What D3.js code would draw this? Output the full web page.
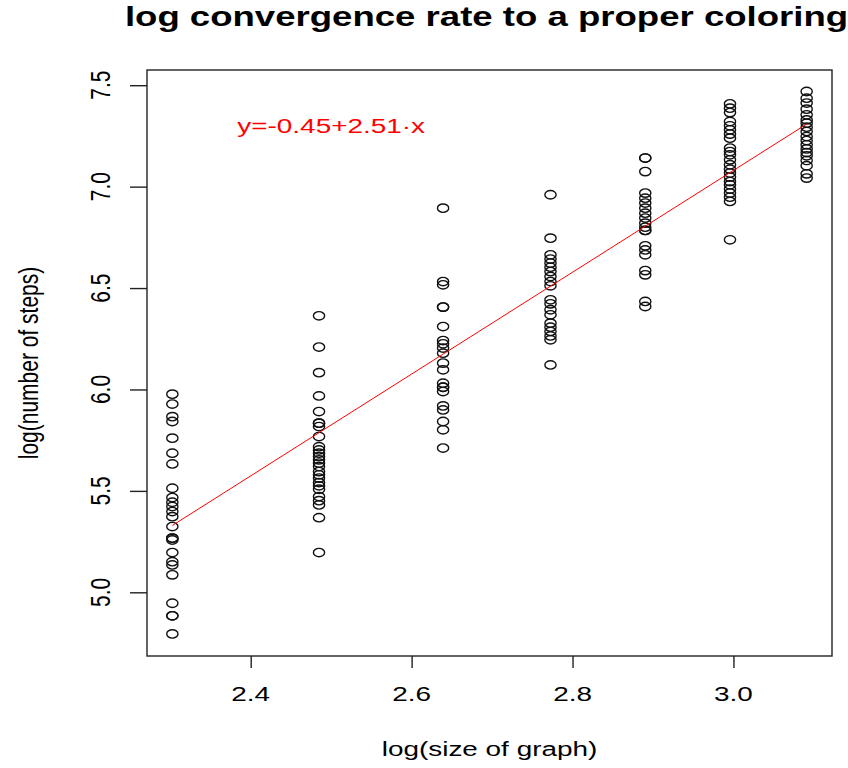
<!DOCTYPE html>
<html>
<head>
<meta charset="utf-8">
<script src="https://cdn.jsdelivr.net/npm/d3@7"></script>
<style>
  body { margin: 0; background: #fff; }
  text { font-family: "Liberation Sans", Arial, sans-serif; }
</style>
</head>
<body>
<div id="chart"></div>
<script>
// log(size of graph) for each group of runs
const logSize = [2.3026, 2.4849, 2.6391, 2.7726, 2.8904, 2.9957, 3.0910]

// log(number of steps) for each run, one array per graph size
const steps10 = [5.977, 5.928, 5.866, 5.842, 5.760, 5.686, 5.633, 5.513, 5.467, 5.444, 5.423, 5.398,
    5.373, 5.324, 5.267, 5.267, 5.258, 5.196, 5.151, 5.135, 5.086, 4.946, 4.884, 4.884, 4.795]
const steps12 = [6.363, 6.209, 6.083, 5.968, 5.891, 5.834, 5.834, 5.817, 5.768, 5.718, 5.702, 5.686,
    5.669, 5.653, 5.637, 5.620, 5.595, 5.579, 5.563, 5.541, 5.525, 5.508, 5.472, 5.452, 5.431, 5.368, 5.196]
const steps14 = [6.894, 6.532, 6.516, 6.406, 6.406, 6.310, 6.241, 6.225, 6.204, 6.179, 6.130, 6.097,
    6.031, 6.011, 6.011, 5.990, 5.919, 5.899, 5.842, 5.801, 5.711]
const steps16 = [6.960, 6.746, 6.664, 6.643, 6.623, 6.603, 6.581, 6.557, 6.532, 6.511, 6.442, 6.422,
    6.393, 6.368, 6.327, 6.307, 6.286, 6.264, 6.245, 6.121]
const steps18 = [7.141, 7.141, 7.074, 6.968, 6.943, 6.919, 6.894, 6.869, 6.845, 6.820, 6.800, 6.784,
    6.784, 6.708, 6.688, 6.664, 6.586, 6.565, 6.434, 6.409]
const steps20 = [7.408, 7.387, 7.365, 7.321, 7.300, 7.280, 7.259, 7.239, 7.190, 7.173, 7.157, 7.132,
    7.108, 7.086, 7.067, 7.047, 7.025, 7.009, 6.988, 6.968, 6.948, 6.927, 6.738]
const steps22 = [7.469, 7.436, 7.412, 7.382, 7.354, 7.329, 7.313, 7.293, 7.272, 7.247, 7.227, 7.206,
    7.186, 7.168, 7.152, 7.129, 7.103, 7.063, 7.042]

const stepGroups = [steps10, steps12, steps14, steps16, steps18, steps20, steps22]

// fitted line y = a + b*x
const intercept = -0.45
const slope = 2.51

const xTicks = [2.4, 2.6, 2.8, 3.0]
const yTicks = [5.0, 5.5, 6.0, 6.5, 7.0, 7.5]

const titleText = "log convergence rate to a proper coloring"
const xLabel = "log(size of graph)"
const yLabel = "log(number of steps)"
const fitLabel = "y=-0.45+2.51\u00b7x"

let svg_width = 848
let svg_height = 768
let sx = 1.33 // the picture is stretched sideways

var margin = { top: 70, right: 16, bottom: 112, left: 147 },
    width = svg_width - margin.left - margin.right,
    height = svg_height - margin.top - margin.bottom;

let points = []
stepGroups.forEach((g, i) => g.forEach(v => points.push({ x: logSize[i], y: v })))

var svg = d3.select("#chart")
    .append("svg")
    .attr("width", svg_width)
    .attr("height", svg_height)
    .append("g")
    .attr("transform", "translate(" + margin.left + "," + margin.top + ")");

var xScale = d3.scaleLinear()
    .domain([2.2711, 3.1225])
    .range([0, width]);

var yScale = d3.scaleLinear()
    .domain([4.686, 7.575])
    .range([height, 0]);

function stretchedText(g, x, y, str, size, rot) {
    return g.append("text")
        .attr("transform", "translate(" + x + "," + y + ") scale(" + sx + ",1)" + (rot ? " rotate(-90)" : ""))
        .attr("text-anchor", "middle")
        .style("font-size", size + "px")
        .text(str)
}

// axes
var xAxis = svg.append("g")
    .attr("transform", "translate(0," + height + ")")
    .call(d3.axisBottom(xScale).tickValues(xTicks).tickSize(12).tickFormat(""));
xAxis.select(".domain").remove()
xAxis.selectAll("line").attr("stroke", "#222").attr("stroke-width", 1.4)

var yAxis = svg.append("g")
    .call(d3.axisLeft(yScale).tickValues(yTicks).tickSize(17).tickFormat(""));
yAxis.select(".domain").remove()
yAxis.selectAll("line").attr("stroke", "#222").attr("stroke-width", 1.4)

xTicks.forEach(t => stretchedText(svg, xScale(t), height + 45, d3.format(".1f")(t), 21))
yTicks.forEach(t => stretchedText(svg, -37, yScale(t), d3.format(".1f")(t), 21, true))

// box
svg.append("rect")
    .attr("x", 0).attr("y", 0)
    .attr("width", width).attr("height", height)
    .attr("fill", "none")
    .attr("stroke", "#222")
    .attr("stroke-width", 1.4);

// points
svg.append("g").selectAll("ellipse").data(points)
    .enter().append("ellipse")
    .attr("cx", d => xScale(d.x))
    .attr("cy", d => yScale(d.y))
    .attr("rx", 5.6)
    .attr("ry", 4.2)
    .attr("fill", "none")
    .attr("stroke", "#111")
    .attr("stroke-width", 1.4);

// fitted line over the data range
let xr = d3.extent(logSize)
svg.append("line")
    .attr("x1", xScale(xr[0]))
    .attr("y1", yScale(intercept + slope * xr[0]))
    .attr("x2", xScale(xr[1]))
    .attr("y2", yScale(intercept + slope * xr[1]))
    .attr("stroke", "#ff0000")
    .attr("stroke-width", 1);

stretchedText(svg, xScale(2.5), yScale(7.3) + 7, fitLabel, 21).attr("fill", "#ff0000")

// titles
stretchedText(svg, width / 2 - 3, -44, titleText, 27.5).style("font-weight", "bold")
stretchedText(svg, width / 2, height + 100, xLabel, 21)
stretchedText(svg, -109, height / 2, yLabel, 21, true)
</script>
</body>
</html>
